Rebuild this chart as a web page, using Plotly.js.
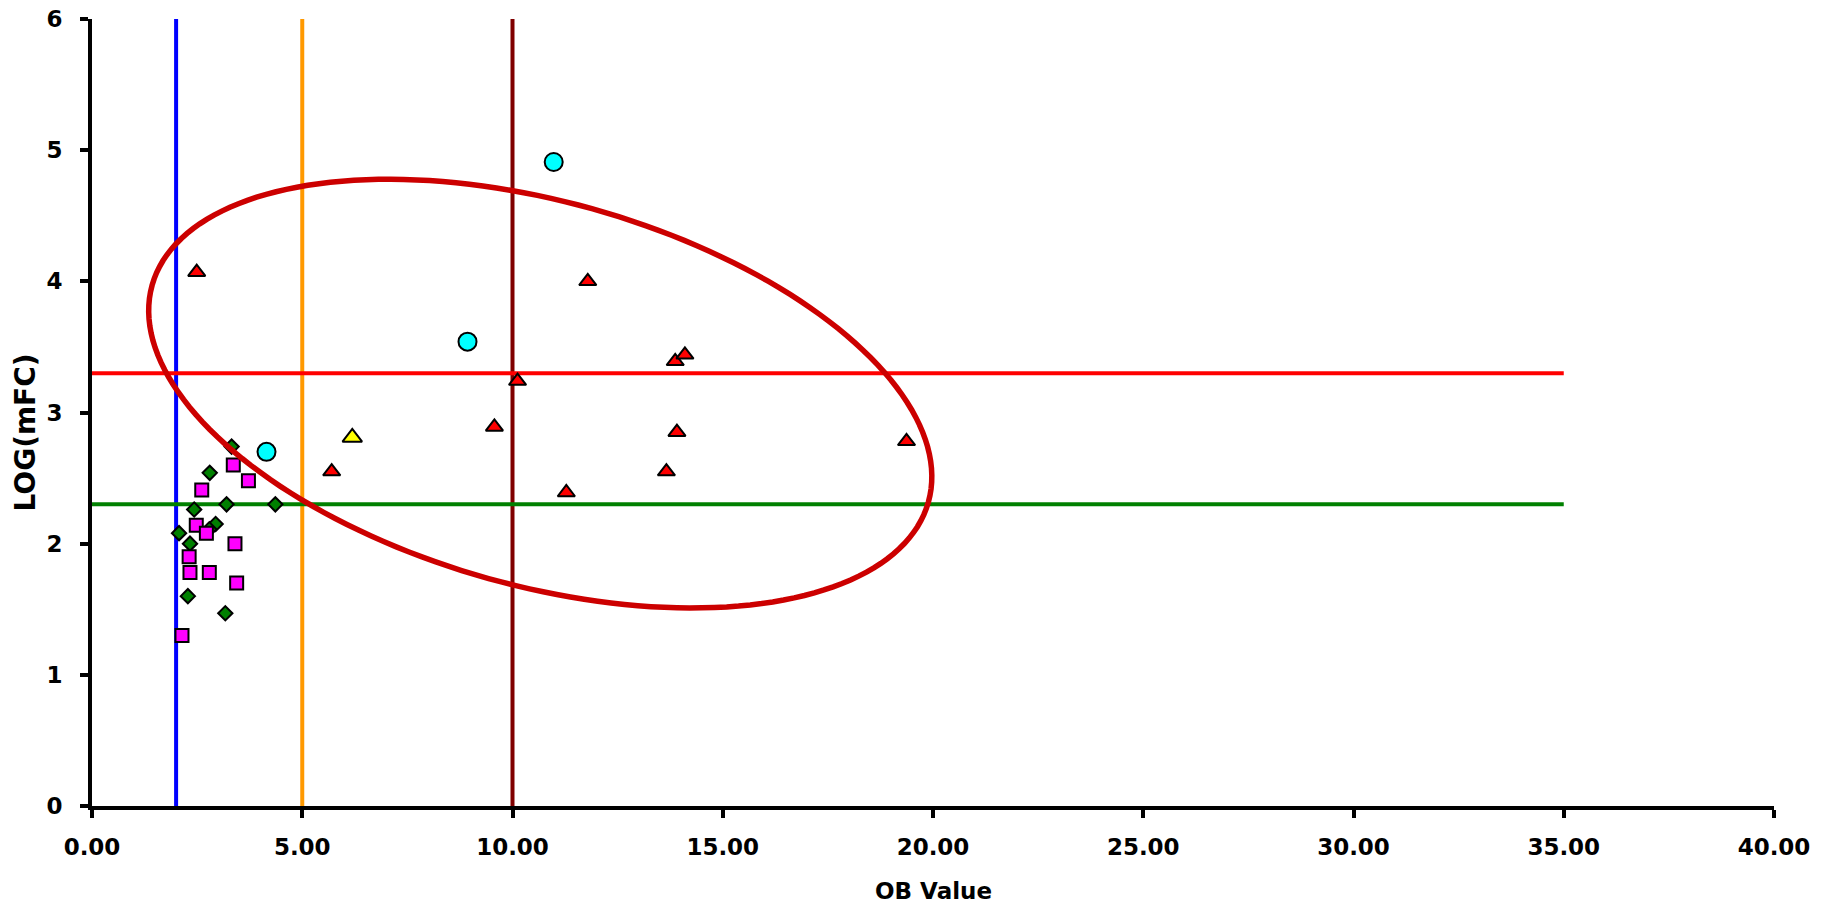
<!DOCTYPE html>
<html>
<head>
<meta charset="utf-8">
<script src="https://cdn.plot.ly/plotly-3.0.1.min.js"></script>
<style>html,body{margin:0;padding:0;background:#fff;}#chart{width:1831px;height:907px;}</style>
</head>
<body>
<div id="chart"></div>
<script>
// ---- Data ----
const cyanX = [10.98, 8.93, 4.15];
const cyanY = [4.91, 3.54, 2.70];

const redTriX = [2.49, 11.79, 13.87, 14.10, 10.12, 9.57, 13.91, 19.37, 5.70, 13.66, 11.28];
const redTriY = [4.07, 4.00, 3.39, 3.44, 3.24, 2.89, 2.85, 2.78, 2.55, 2.55, 2.39];

const yellowTriX = [6.19];
const yellowTriY = [2.81];

const greenX = [3.32, 2.80, 3.20, 4.36, 2.43, 2.94, 2.79, 2.07, 2.33, 2.28, 3.17];
const greenY = [2.74, 2.54, 2.30, 2.30, 2.26, 2.15, 2.11, 2.08, 2.00, 1.60, 1.47];

const magentaX = [3.36, 3.72, 2.61, 2.48, 2.72, 3.40, 2.31, 2.33, 2.79, 3.44, 2.14];
const magentaY = [2.60, 2.48, 2.41, 2.14, 2.08, 2.00, 1.90, 1.78, 1.78, 1.70, 1.30];

// reference lines
const vLineX = [2, 5, 10];
const vLineColors = ['#0000FF', '#FF9900', '#800000'];
const hLineY = [3.3, 2.3];
const hLineColors = ['#FF0000', '#008000'];
const hLineXEnd = 35;

// axes
const xRange = [0, 40];
const yRange = [0, 6];
const xTickVals = [0, 5, 10, 15, 20, 25, 30, 35, 40];
const xTickText = ['0.00', '5.00', '10.00', '15.00', '20.00', '25.00', '30.00', '35.00', '40.00'];
const yTickVals = [0, 1, 2, 3, 4, 5, 6];

// ellipse annotation (center in data units, semi-axes in screen px, tilt in degrees)
const ellipseCenter = [10.66, 3.144];
const ellipseSemiAxesPx = [403, 192];
const ellipseTiltDeg = 15.6;

// ---- Layout geometry ----
const W = 1831, H = 907;
const M = {l: 92, r: 57, t: 19, b: 101};
const plotW = W - M.l - M.r, plotH = H - M.t - M.b;
const pxPerX = plotW / (xRange[1] - xRange[0]);
const pxPerY = plotH / (yRange[1] - yRange[0]);

function ellipsePath() {
  const th = ellipseTiltDeg * Math.PI / 180;
  const a = ellipseSemiAxesPx[0], b = ellipseSemiAxesPx[1];
  const n = 180;
  let d = '';
  for (let i = 0; i <= n; i++) {
    const t = 2 * Math.PI * i / n;
    const px = a * Math.cos(th) * Math.cos(t) - b * Math.sin(th) * Math.sin(t);
    const py = a * Math.sin(th) * Math.cos(t) + b * Math.cos(th) * Math.sin(t); // screen y down
    const x = ellipseCenter[0] + px / pxPerX;
    const y = ellipseCenter[1] - py / pxPerY;
    d += (i === 0 ? 'M' : 'L') + x.toFixed(4) + ',' + y.toFixed(4);
  }
  return d + 'Z';
}

const shapes = [];
vLineX.forEach((x, i) => shapes.push({
  type: 'line', xref: 'x', yref: 'y', x0: x, x1: x, y0: yRange[0], y1: yRange[1],
  line: {color: vLineColors[i], width: 4}, layer: 'below'
}));
hLineY.forEach((y, i) => shapes.push({
  type: 'line', xref: 'x', yref: 'y', x0: xRange[0], x1: hLineXEnd, y0: y, y1: y,
  line: {color: hLineColors[i], width: 4}, layer: 'below'
}));
shapes.push({
  type: 'path', xref: 'x', yref: 'y', path: ellipsePath(),
  line: {color: '#CC0000', width: 5.5}, fillcolor: 'rgba(0,0,0,0)', layer: 'above'
});

const outline = {color: '#000000', width: 2};
const traces = [
  {x: greenX, y: greenY, mode: 'markers', type: 'scatter', name: 'Diamonds',
   marker: {symbol: 'diamond', size: 11, color: '#008000', line: outline}},
  {x: magentaX, y: magentaY, mode: 'markers', type: 'scatter', name: 'Squares',
   marker: {symbol: 'square', size: 13, color: '#FF00FF', line: outline}},
  {x: redTriX, y: redTriY, mode: 'markers', type: 'scatter', name: 'Red triangles',
   marker: {symbol: 'triangle-up', size: 15, color: '#FF0000', line: outline}},
  {x: yellowTriX, y: yellowTriY, mode: 'markers', type: 'scatter', name: 'Yellow triangle',
   marker: {symbol: 'triangle-up', size: 17, color: '#FFFF00', line: outline}},
  {x: cyanX, y: cyanY, mode: 'markers', type: 'scatter', name: 'Circles',
   marker: {symbol: 'circle', size: 18, color: '#00FFFF', line: outline}}
];

const tickFont = {family: 'DejaVu Sans, Arial, sans-serif', size: 23, color: '#000000', weight: 'bold'};
const titleFont = {family: 'DejaVu Sans, Arial, sans-serif', size: 23, color: '#000000', weight: 'bold'};

const layout = {
  width: W, height: H, autosize: false,
  margin: M,
  paper_bgcolor: '#FFFFFF', plot_bgcolor: '#FFFFFF',
  showlegend: false,
  xaxis: {
    range: xRange, tickmode: 'array', tickvals: xTickVals, ticktext: xTickText,
    showgrid: false, zeroline: false, showline: true, linecolor: '#000000', linewidth: 4,
    ticks: 'outside', ticklen: 8, tickwidth: 4, tickcolor: '#000000',
    tickfont: tickFont, ticklabelstandoff: 9, fixedrange: true
  },
  yaxis: {
    range: yRange, tickmode: 'array', tickvals: yTickVals,
    showgrid: false, zeroline: false, showline: true, linecolor: '#000000', linewidth: 4,
    ticks: 'outside', ticklen: 8, tickwidth: 4, tickcolor: '#000000',
    tickfont: tickFont, ticklabelstandoff: 13, fixedrange: true
  },
  shapes: shapes,
  annotations: [
    {text: 'OB Value', xref: 'paper', yref: 'paper', x: 0.5, y: (0 - 85) / plotH,
     xanchor: 'center', yanchor: 'middle', showarrow: false, font: titleFont},
    {text: 'LOG(mFC)', xref: 'paper', yref: 'paper', x: (25 - M.l) / plotW, y: (806 - 432.5) / plotH,
     xanchor: 'center', yanchor: 'middle', textangle: -90, showarrow: false,
     font: Object.assign({}, titleFont, {size: 28})}
  ]
};

Plotly.newPlot('chart', traces, layout, {displayModeBar: false, staticPlot: true});
</script>
</body>
</html>
